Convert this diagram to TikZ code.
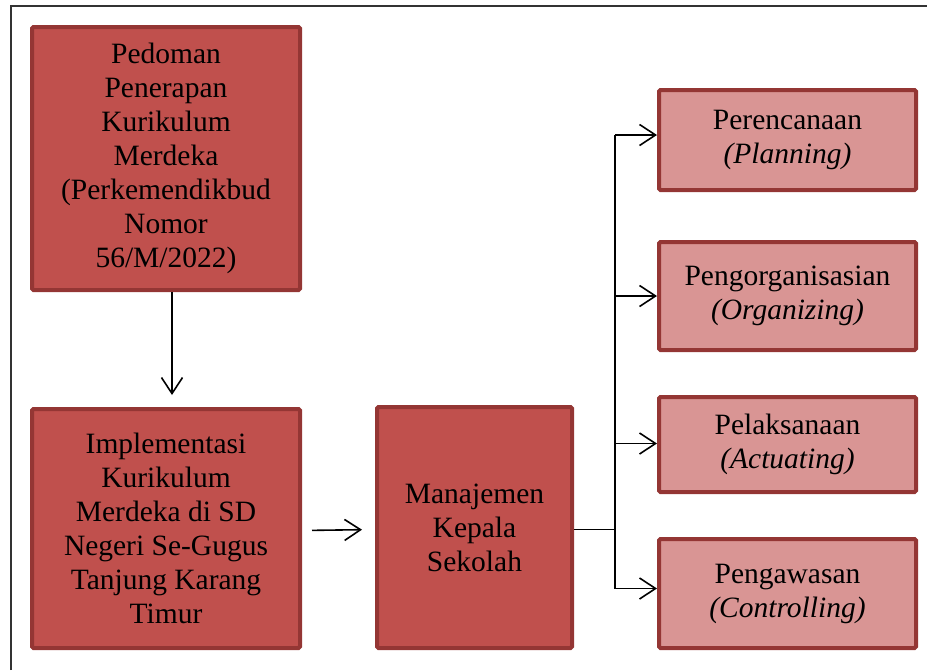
\documentclass[tikz,border=0pt]{standalone}
\usepackage{fontspec}
\setmainfont{Liberation Serif}
\usepackage{tikz}
\usetikzlibrary{arrows.meta,positioning}
\definecolor{boxred}{HTML}{C0504D}
\definecolor{boxpink}{HTML}{D99594}
\definecolor{rimred}{HTML}{943634}

\begin{document}
\begin{tikzpicture}[x=1pt, y=-1pt,
  every node/.style={font=\fontsize{29.5}{34}\selectfont},
  main/.style={draw=rimred,line width=4pt,fill=boxred,rounded corners=1.5pt,
               align=center,inner sep=0pt},
  stage/.style={draw=rimred,line width=4pt,fill=boxpink,rounded corners=1.5pt,
               align=center,inner sep=0pt,minimum width=257pt},
  ar/.style={-{Straight Barb[length=16pt,width=21pt,line width=1.6pt]},line width=1.6pt},
  ln/.style={line width=1.6pt}]

\useasboundingbox (0,0) rectangle (927,670);
\draw[line width=1.5pt,black!80] (11,670) -- (11,6) -- (927,6);

\node[main,minimum width=268pt,minimum height=263pt] (ped) at (166,158.5)
  {Pedoman\\Penerapan\\Kurikulum\\Merdeka\\(Perkemendikbud\\Nomor\\56/M/2022)};
\node[main,minimum width=268pt,minimum height=239pt] (imp) at (166,528.5)
  {Implementasi\\Kurikulum\\Merdeka di SD\\Negeri Se-Gugus\\Tanjung Karang\\Timur};
\node[main,minimum width=195pt,minimum height=241pt] (man) at (474.5,527.5)
  {Manajemen\\Kepala\\Sekolah};

\node[stage,minimum height=100pt] (plan) at (787.5,140)   {Perencanaan\\\textit{(Planning)}};
\node[stage,minimum height=108pt] (org)  at (787.5,296)   {Pengorganisasian\\\textit{(Organizing)}};
\node[stage,minimum height=95pt]  (act)  at (787.5,444.5) {Pelaksanaan\\\textit{(Actuating)}};
\node[stage,minimum height=109pt] (ctl)  at (787.5,593.5) {Pengawasan\\\textit{(Controlling)}};

\draw[ar,shorten >=12pt] ([xshift=6pt]ped.south) -- ([xshift=6pt]imp.north);
\draw[ar,shorten <=10pt,shorten >=13pt] ([yshift=-2pt]imp.east) -- ([yshift=-2pt]man.west);

\draw[ln] ([yshift=-2pt]man.east) -- ++(41,0) coordinate (fork);
\draw[ln] ([yshift=5pt]fork |- plan.west) -- ([yshift=5pt]fork |- ctl.west);
\foreach \s/\d in {plan/5,org/0,act/1,ctl/5}
  \draw[ar] ([yshift=\d pt]fork |- \s.west) -- ([yshift=\d pt]\s.west);
\end{tikzpicture}
\end{document}
